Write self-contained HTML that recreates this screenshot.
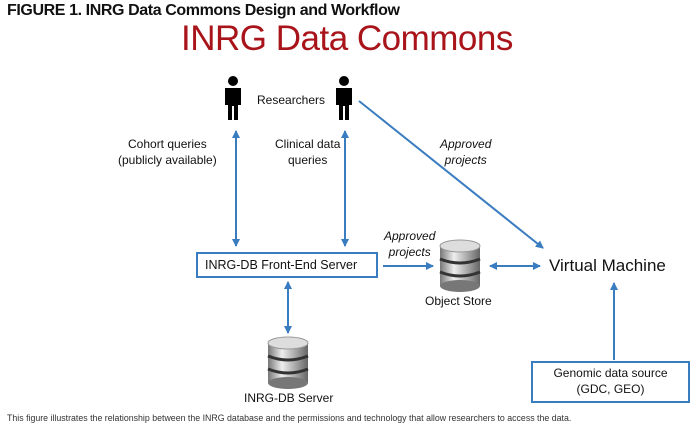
<!DOCTYPE html>
<html><head><style>
body{margin:0;width:700px;height:428px;background:#fff;position:relative;overflow:hidden;font-family:"Liberation Sans",sans-serif;}
.t{position:absolute;white-space:nowrap;color:#111;}
</style></head><body>
<div class="t" style="left:7px;top:2px;font-size:16px;font-weight:bold;letter-spacing:-0.4px;">FIGURE 1. INRG Data Commons Design and Workflow</div>
<div class="t" style="left:181px;top:19px;font-size:35px;color:#a8141a;letter-spacing:-0.5px;">INRG Data Commons</div>
<svg width="700" height="428" style="position:absolute;left:0;top:0">
<defs>
<marker id="a" markerWidth="8" markerHeight="8" refX="7" refY="4" orient="auto-start-reverse" markerUnits="userSpaceOnUse"><path d="M0,0 L8,4 L0,8 z" fill="#3a7cc0"/></marker>
<linearGradient id="g" x1="0" x2="1"><stop offset="0" stop-color="#777"/><stop offset="0.35" stop-color="#eee"/><stop offset="1" stop-color="#666"/></linearGradient>
<g id="db"><rect x="0" y="6" width="40" height="40" fill="url(#g)"/><ellipse cx="20" cy="46" rx="20" ry="6" fill="#777"/><ellipse cx="20" cy="6" rx="20" ry="6" fill="#ddd" stroke="#999"/><path d="M0,19 Q20,27 40,19 M0,32 Q20,40 40,32" stroke="#333" stroke-width="3" fill="none"/></g>
<g id="p"><circle cx="9" cy="5" r="5" fill="#000"/><path d="M1,12 h16 v17 h-3 v15 h-4 v-14 h-2 v14 h-4 v-15 h-3 z" fill="#000"/></g>
</defs>
<g stroke="#3a7cc0" stroke-width="2" fill="none">
<line x1="236" y1="131" x2="236" y2="246" marker-start="url(#a)" marker-end="url(#a)"/>
<line x1="345" y1="131" x2="345" y2="246" marker-start="url(#a)" marker-end="url(#a)"/>
<line x1="359" y1="101" x2="543" y2="248" marker-end="url(#a)"/>
<line x1="383" y1="266" x2="433" y2="266" marker-end="url(#a)"/>
<line x1="490" y1="266" x2="540" y2="266" marker-start="url(#a)" marker-end="url(#a)"/>
<line x1="614" y1="360" x2="614" y2="283" marker-end="url(#a)"/>
<line x1="288" y1="282" x2="288" y2="333" marker-start="url(#a)" marker-end="url(#a)"/>
<rect x="197" y="253" width="180" height="24"/>
<rect x="532" y="362" width="157" height="40"/>
</g>
<use href="#p" x="224" y="76"/>
<use href="#p" x="335" y="76"/>
<use href="#db" x="440" y="240"/>
<use href="#db" x="268" y="337"/>
</svg>
<div class="t" style="left:257px;top:93px;font-size:12px;">Researchers</div>
<div class="t" style="left:118px;top:136px;font-size:12px;text-align:center;line-height:16px;">Cohort queries<br>(publicly available)</div>
<div class="t" style="left:275px;top:136px;font-size:12px;text-align:center;line-height:16px;">Clinical data<br>queries</div>
<div class="t" style="left:440px;top:136px;font-size:12px;font-style:italic;text-align:center;line-height:16px;">Approved<br>projects</div>
<div class="t" style="left:384px;top:228px;font-size:12px;font-style:italic;text-align:center;line-height:16px;">Approved<br>projects</div>
<div class="t" style="left:205px;top:258px;font-size:12.5px;">INRG-DB Front-End Server</div>
<div class="t" style="left:425px;top:294px;font-size:12px;">Object Store</div>
<div class="t" style="left:549px;top:256px;font-size:17px;">Virtual Machine</div>
<div class="t" style="left:540px;top:365px;width:141px;font-size:12px;text-align:center;line-height:16px;">Genomic data source<br>(GDC, GEO)</div>
<div class="t" style="left:244px;top:391px;font-size:12px;">INRG-DB Server</div>
<div class="t" style="left:7px;top:413px;font-size:8.8px;color:#333;">This figure illustrates the relationship between the INRG database and the permissions and technology that allow researchers to access the data.</div>
</body></html>
